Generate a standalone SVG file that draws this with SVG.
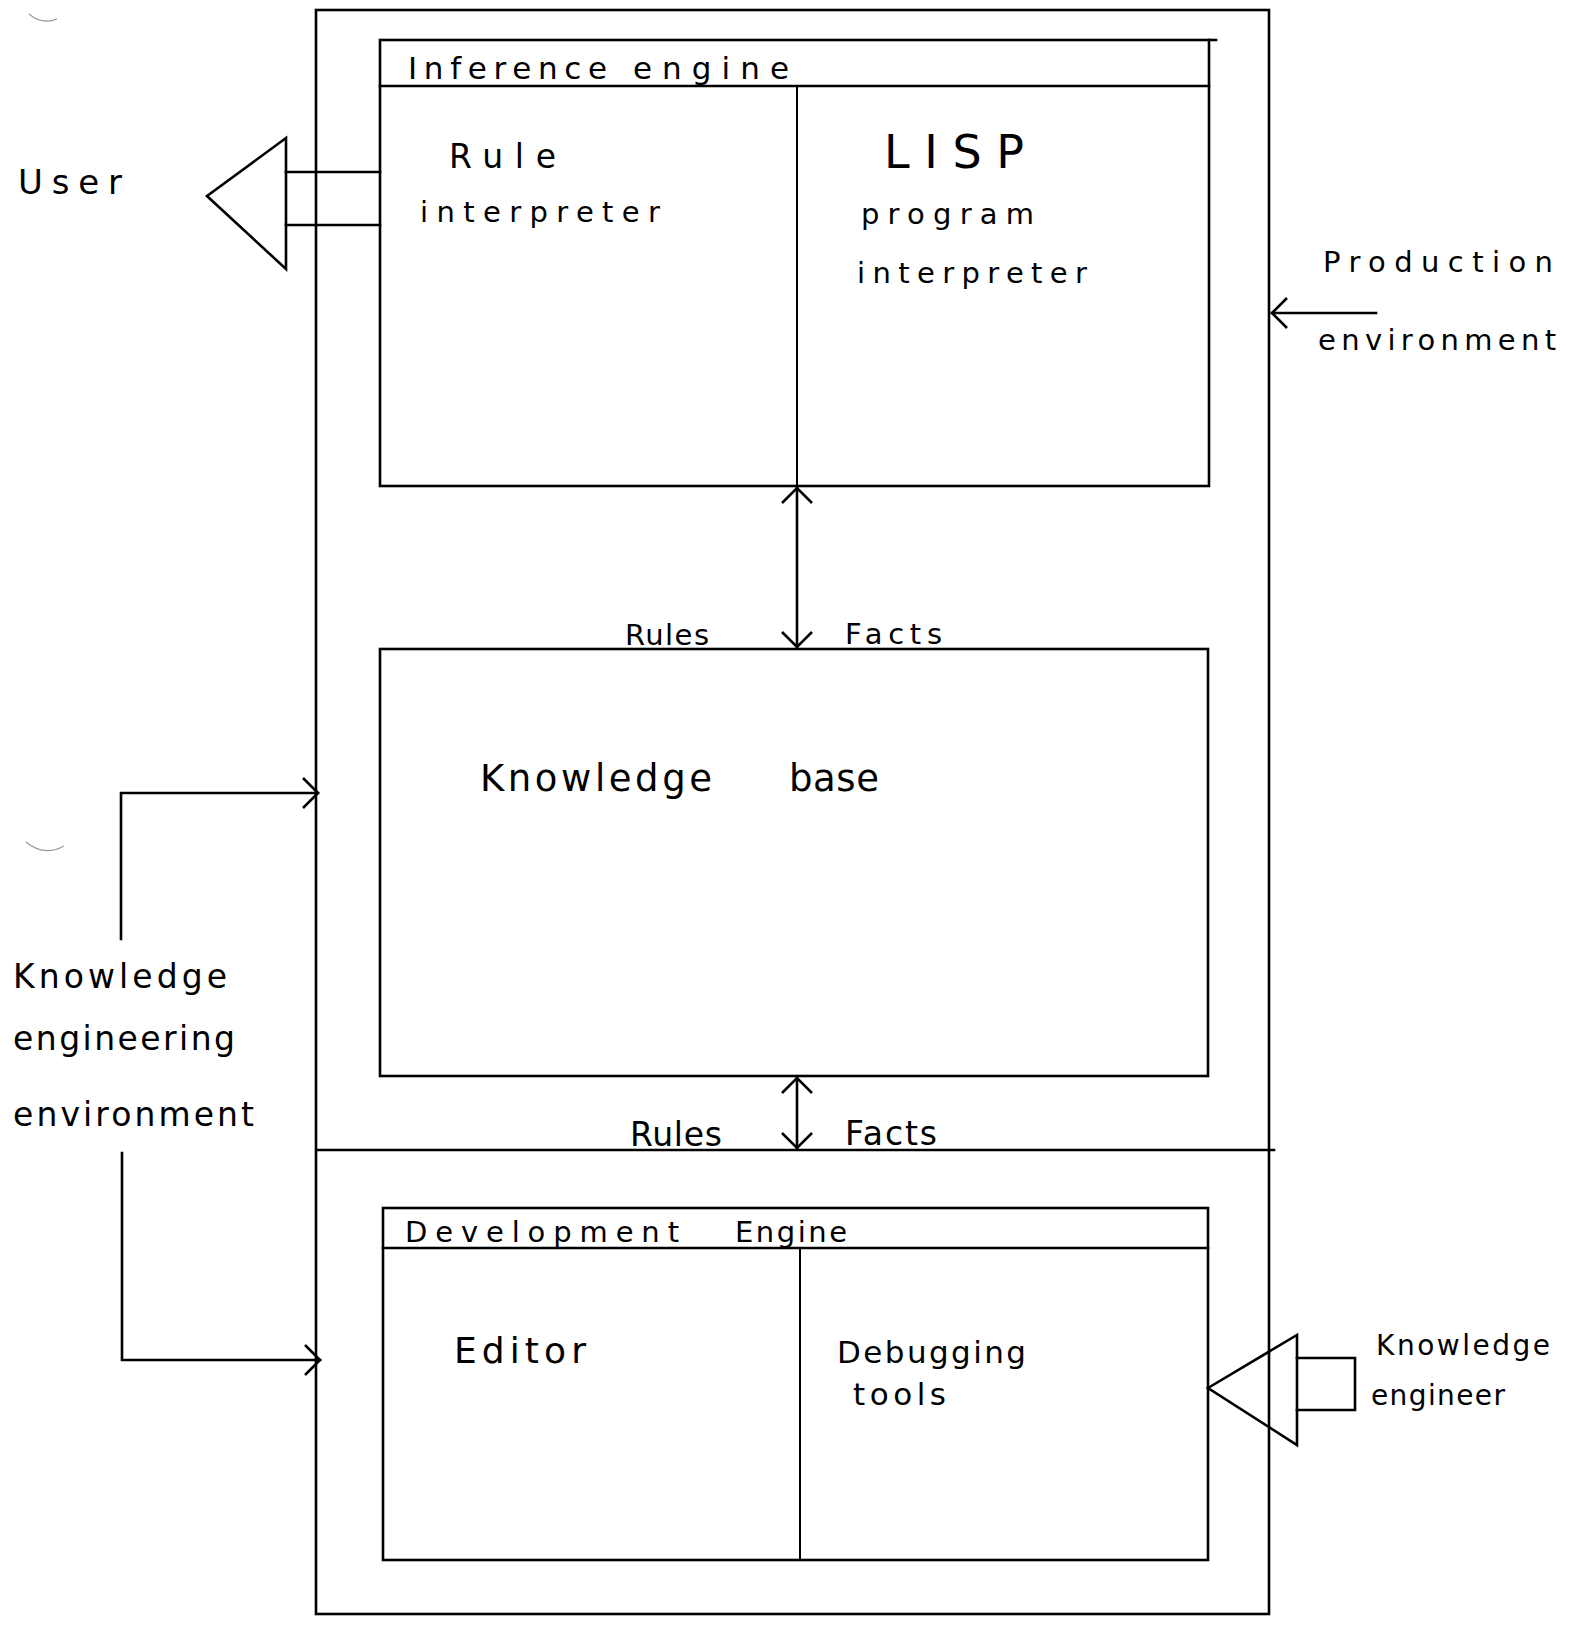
<svg xmlns="http://www.w3.org/2000/svg" width="1575" height="1627" viewBox="0 0 1575 1627">
<style>
  .ln { fill: none; stroke: #000; stroke-width: 2.6; stroke-linecap: square; }
  .thin { fill: none; stroke: #000; stroke-width: 2; }
  .tx { font-family: "DejaVu Sans", "Liberation Sans", sans-serif; fill: #000; }
  .smudge { fill: none; stroke: #999; stroke-width: 1.2; }
</style>
<defs>
  <marker id="vhead" markerUnits="userSpaceOnUse" markerWidth="20" markerHeight="36" viewBox="0 0 20 36" refX="17" refY="18" orient="auto-start-reverse">
    <path d="M2,3 L17,18 L2,33" fill="none" stroke="#000" stroke-width="2.6"/>
  </marker>
</defs>
<rect width="1575" height="1627" fill="#fff"/>

<path class="smudge" d="M29,14 Q42,25 57,19"/>
<path class="smudge" d="M26,842 Q44,857 64,846"/>

<g id="outer-system">
  <rect class="ln" x="316" y="10" width="953" height="1604"/>
  <line class="ln" x1="318" y1="1150" x2="1274" y2="1150"/>
</g>

<g id="inference-engine">
  <rect class="ln" x="380" y="40" width="829" height="446"/>
  <line class="ln" x1="1209" y1="40" x2="1216" y2="40"/>
  <line class="ln" x1="380" y1="86" x2="1209" y2="86"/>
  <line class="thin" x1="797" y1="86" x2="797" y2="486"/>
  <text class="tx" y="79" font-size="31"><tspan x="408" textLength="199" lengthAdjust="spacing">Inference</tspan><tspan x="633" textLength="156" lengthAdjust="spacing">engine</tspan></text>
</g>

<g id="rule-interpreter">
  <text class="tx" font-size="33"><tspan x="449" y="168" textLength="107" lengthAdjust="spacing">Rule</tspan><tspan x="420" y="222" font-size="29" textLength="240" lengthAdjust="spacing">interpreter</tspan></text>
</g>

<g id="lisp-interpreter">
  <text class="tx" font-size="29"><tspan x="884" y="168" font-size="46" textLength="140" lengthAdjust="spacing">LISP</tspan><tspan x="861" y="224" textLength="173" lengthAdjust="spacing">program</tspan><tspan x="857" y="283" textLength="230" lengthAdjust="spacing">interpreter</tspan></text>
</g>

<g id="knowledge-base">
  <rect class="ln" x="380" y="649" width="828" height="427"/>
  <text class="tx" y="791" font-size="37"><tspan x="480" textLength="232" lengthAdjust="spacing">Knowledge</tspan><tspan x="789" textLength="90" lengthAdjust="spacing">base</tspan></text>
</g>

<g id="development-engine">
  <rect class="ln" x="383" y="1208" width="825" height="352"/>
  <line class="ln" x1="383" y1="1248" x2="1208" y2="1248"/>
  <line class="thin" x1="800" y1="1248" x2="800" y2="1560"/>
  <text class="tx" y="1242" font-size="29"><tspan x="405" textLength="274" lengthAdjust="spacing">Development</tspan><tspan x="735" textLength="112" lengthAdjust="spacing">Engine</tspan></text>
</g>

<g id="editor">
  <text class="tx" x="454" y="1363" font-size="36" textLength="132" lengthAdjust="spacing">Editor</text>
</g>

<g id="debugging-tools">
  <text class="tx" font-size="31"><tspan x="837" y="1363" textLength="189" lengthAdjust="spacing">Debugging</tspan><tspan x="853" y="1405" textLength="93" lengthAdjust="spacing">tools</tspan></text>
</g>

<g id="user">
  <text class="tx" x="18" y="194" font-size="34" textLength="104" lengthAdjust="spacing">User</text>
</g>

<g id="production-environment">
  <text class="tx" font-size="29"><tspan x="1323" y="272" textLength="230" lengthAdjust="spacing">Production</tspan><tspan x="1318" y="350" textLength="238" lengthAdjust="spacing">environment</tspan></text>
</g>

<g id="knowledge-engineering-environment">
  <text class="tx" font-size="33"><tspan x="13" y="988" textLength="214" lengthAdjust="spacing">Knowledge</tspan><tspan x="13" y="1050" textLength="222" lengthAdjust="spacing">engineering</tspan><tspan x="13" y="1126" textLength="241" lengthAdjust="spacing">environment</tspan></text>
</g>

<g id="knowledge-engineer">
  <text class="tx" font-size="28"><tspan x="1376" y="1355" textLength="174" lengthAdjust="spacing">Knowledge</tspan><tspan x="1371" y="1405" textLength="134" lengthAdjust="spacing">engineer</tspan></text>
</g>

<g id="connectors">
  <g id="user-arrow">
    <polygon class="ln" points="207,196 286,138 286,269"/>
    <line class="ln" x1="286" y1="172" x2="380" y2="172"/>
    <line class="ln" x1="286" y1="225" x2="380" y2="225"/>
  </g>
  <g id="ke-arrow">
    <polygon class="ln" points="1208,1388 1297,1335 1297,1445"/>
    <polyline class="ln" points="1297,1358 1355,1358 1355,1410 1297,1410"/>
  </g>
  <line class="ln" x1="797" y1="488" x2="797" y2="647" marker-start="url(#vhead)" marker-end="url(#vhead)"/>
  <line class="ln" x1="797" y1="1078" x2="797" y2="1148" marker-start="url(#vhead)" marker-end="url(#vhead)"/>
  <line class="ln" x1="1376" y1="313" x2="1272" y2="313" marker-end="url(#vhead)"/>
  <polyline class="ln" points="121,939 121,793 318,793" marker-end="url(#vhead)"/>
  <polyline class="ln" points="122,1153 122,1360 320,1360" marker-end="url(#vhead)"/>
  <text class="tx" x="625" y="645" font-size="29" textLength="84" lengthAdjust="spacing">Rules</text>
  <text class="tx" x="845" y="644" font-size="29" textLength="97" lengthAdjust="spacing">Facts</text>
  <text class="tx" x="630" y="1146" font-size="33" textLength="92" lengthAdjust="spacing">Rules</text>
  <text class="tx" x="845" y="1145" font-size="33" textLength="92" lengthAdjust="spacing">Facts</text>
</g>
</svg>
